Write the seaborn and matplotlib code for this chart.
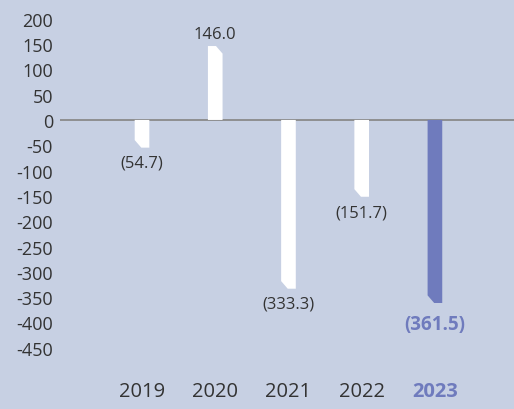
import matplotlib
matplotlib.use("Agg")
import matplotlib.pyplot as plt
import seaborn as sns
import pandas as pd
from matplotlib.patches import Polygon

# --- data ---
years = ["2019", "2020", "2021", "2022", "2023"]
values = [-54.7, 146.0, -333.3, -151.7, -361.5]
labels = ["(54.7)", "146.0", "(333.3)", "(151.7)", "(361.5)"]
y_ticks = [200, 150, 100, 50, 0, -50, -100, -150, -200, -250, -300, -350, -400, -450]

BG = "#c7d0e3"
WHITE = "#ffffff"
PURPLE = "#6f7bbd"
TXT = "#333333"
bar_colors = [WHITE, WHITE, WHITE, WHITE, PURPLE]

sns.set_theme(style="white")
plt.rcParams["font.family"] = ["Open Sans", "DejaVu Sans"]

df = pd.DataFrame({"year": years, "value": values})

fig = plt.figure(figsize=(5.14, 4.10), dpi=100)
fig.patch.set_facecolor(BG)
ax = fig.add_axes([60 / 514, 45 / 410, 454 / 514, 360 / 410])
ax.set_facecolor(BG)

sns.barplot(data=df, x="year", y="value", hue="year", palette=bar_colors,
            width=0.2, legend=False, ax=ax, saturation=1)

# swap plain rectangles for bars with a clipped corner
for patch, v, c in zip(ax.patches, values, bar_colors):
    x0 = patch.get_x()
    w = patch.get_width()
    cw = w * 0.45
    ch = 15
    if v < 0:
        pts = [(x0, 0), (x0 + w, 0), (x0 + w, v), (x0 + cw, v), (x0, v + ch)]
    else:
        pts = [(x0, 0), (x0, v), (x0 + w - cw, v), (x0 + w, v - ch), (x0 + w, 0)]
    patch.set_visible(False)
    ax.add_patch(Polygon(pts, closed=True, facecolor=c, edgecolor="none", zorder=2))

ax.axhline(0, color="#8a8a8a", lw=1.3, zorder=1)

# value labels
for i, (v, lab) in enumerate(zip(values, labels)):
    last = i == len(values) - 1
    if v >= 0:
        off = 9
    else:
        off = -15 if last else -11
    ax.annotate(lab, (i, v), xytext=(0, off), textcoords="offset points",
                ha="center", va="center",
                fontsize=13.5 if last else 12,
                fontweight="bold" if last else "normal",
                color=PURPLE if last else TXT)

ax.set_xlim(-1.12, 5.08)
ax.set_ylim(-482, 229)
ax.set_yticks(y_ticks)
ax.set_yticklabels([str(t) for t in y_ticks])
ax.set_xlabel("")
ax.set_ylabel("")
ax.tick_params(axis="y", length=0, pad=5, labelsize=13, labelcolor=TXT)
ax.tick_params(axis="x", length=0, pad=12, labelsize=14.5, labelcolor=TXT)
for t in ax.get_xticklabels():
    if t.get_text() == "2023":
        t.set_color(PURPLE)
        t.set_fontweight("bold")
for s in ax.spines.values():
    s.set_visible(False)

fig.savefig("out.png", dpi=100, facecolor=BG)
